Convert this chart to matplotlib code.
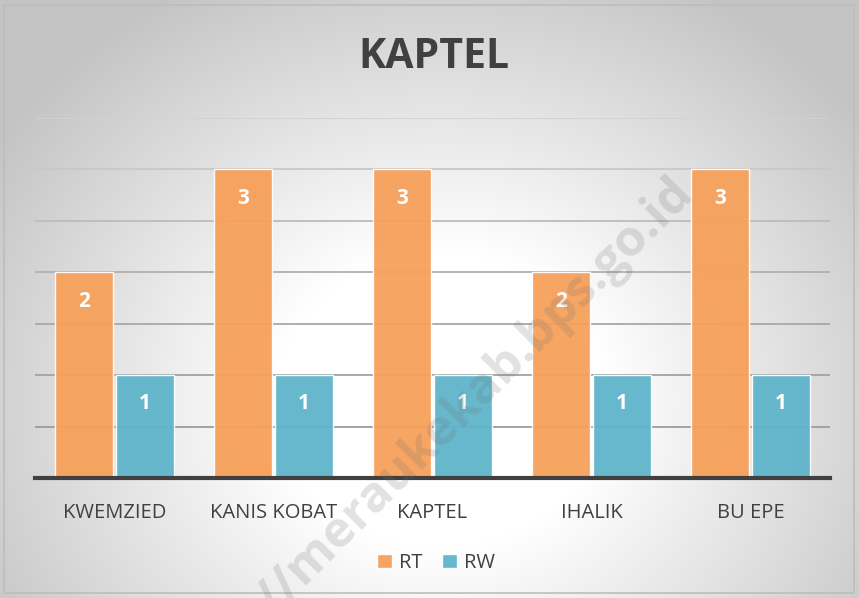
import numpy as np
import matplotlib
matplotlib.use("Agg")
import matplotlib.pyplot as plt
from matplotlib.patches import Rectangle

categories = ["KWEMZIED", "KANIS KOBAT", "KAPTEL", "IHALIK", "BU EPE"]
rt_values = [2, 3, 3, 2, 3]
rw_values = [1, 1, 1, 1, 1]
series_names = ["RT", "RW"]
title = "KAPTEL"

W, H = 859, 598
fig = plt.figure(figsize=(W / 100, H / 100), dpi=100)

# background radial gradient
bg = fig.add_axes([0, 0, 1, 1])
yy, xx = np.mgrid[0:H, 0:W]
cx, cy = 440, 400
r = np.sqrt(((xx - cx) / 470) ** 2 + ((yy - cy) / 420) ** 2)
val = np.clip(1.0 - 0.30 * np.clip(r - 0.35, 0, None) ** 1.0, 0.77, 1.0)
img = np.dstack([val, val, val])
bg.imshow(img, extent=[0, W, H, 0], aspect="auto", interpolation="bilinear")
bg.add_patch(Rectangle((4, 5), W - 9, H - 10, fill=False, edgecolor="#bdbdbd", lw=1.2))
bg.set_xlim(0, W)
bg.set_ylim(H, 0)
bg.axis("off")

ax = fig.add_axes([35 / W, (H - 478) / H, (830 - 35) / W, (478 - 118) / H])
ax.patch.set_alpha(0)
x = np.arange(len(categories))
bw = 0.365
orange = "#F7A05A"
blue = "#5FB4CB"

grid_levels = np.arange(0.5, 3.51, 0.5)
grid_colors = ["#9c9c9c", "#a2a2a2", "#a8a8a8", "#b0b0b0", "#bcbcbc", "#c8c8c8", "#d2d2d2"]
for g, c in zip(grid_levels, grid_colors):
    ax.axhline(g, color=c, lw=1.3, zorder=1)

b1 = ax.bar(x - bw / 2 - 0.007, rt_values, bw, color=orange, alpha=0.95,
            edgecolor=(1, 1, 1, 0.5), linewidth=1.0, zorder=3, label=series_names[0])
b2 = ax.bar(x + bw / 2 + 0.007, rw_values, bw, color=blue, alpha=0.95,
            edgecolor=(1, 1, 1, 0.5), linewidth=1.0, zorder=3, label=series_names[1])

for bars, vals in ((b1, rt_values), (b2, rw_values)):
    for b, v in zip(bars, vals):
        ax.text(b.get_x() + b.get_width() / 2, v - 0.28, str(v), ha="center", va="center",
                color="white", fontsize=15, fontweight="bold", family="Open Sans", zorder=5)

ax.set_xlim(-0.5, len(categories) - 0.5)
ax.set_ylim(0, 3.5)
ax.set_yticks([])
ax.set_xticks(x)
ax.set_xticklabels(categories, fontsize=14.5, color="#404040", family="Open Sans")
ax.tick_params(axis="x", length=0, pad=18)
for s in ["top", "right", "left"]:
    ax.spines[s].set_visible(False)
ax.spines["bottom"].set_color("#404040")
ax.spines["bottom"].set_linewidth(3)
ax.spines["bottom"].set_zorder(4)

fig.text(434 / W, 1 - 58 / H, title, ha="center", va="center", fontsize=29.5,
         fontweight="bold", color="#404040", family="Open Sans")

leg = fig.legend(handles=[b1, b2], labels=series_names, loc="center",
                 bbox_to_anchor=(436 / W, 1 - 563 / H), ncol=2, frameon=False,
                 handlelength=0.75, handleheight=0.75, handletextpad=0.35,
                 columnspacing=1.0, prop={"family": "Open Sans", "size": 14.5})
for t in leg.get_texts():
    t.set_color("#404040")

# watermark
fig.text(432 / W, 1 - 438 / H, "http://meraukekab.bps.go.id", ha="center", va="center",
         rotation=45, fontsize=36, fontweight="bold", color="#707070", alpha=0.2,
         family="Open Sans", zorder=10)

fig.savefig("out.png", dpi=100)
